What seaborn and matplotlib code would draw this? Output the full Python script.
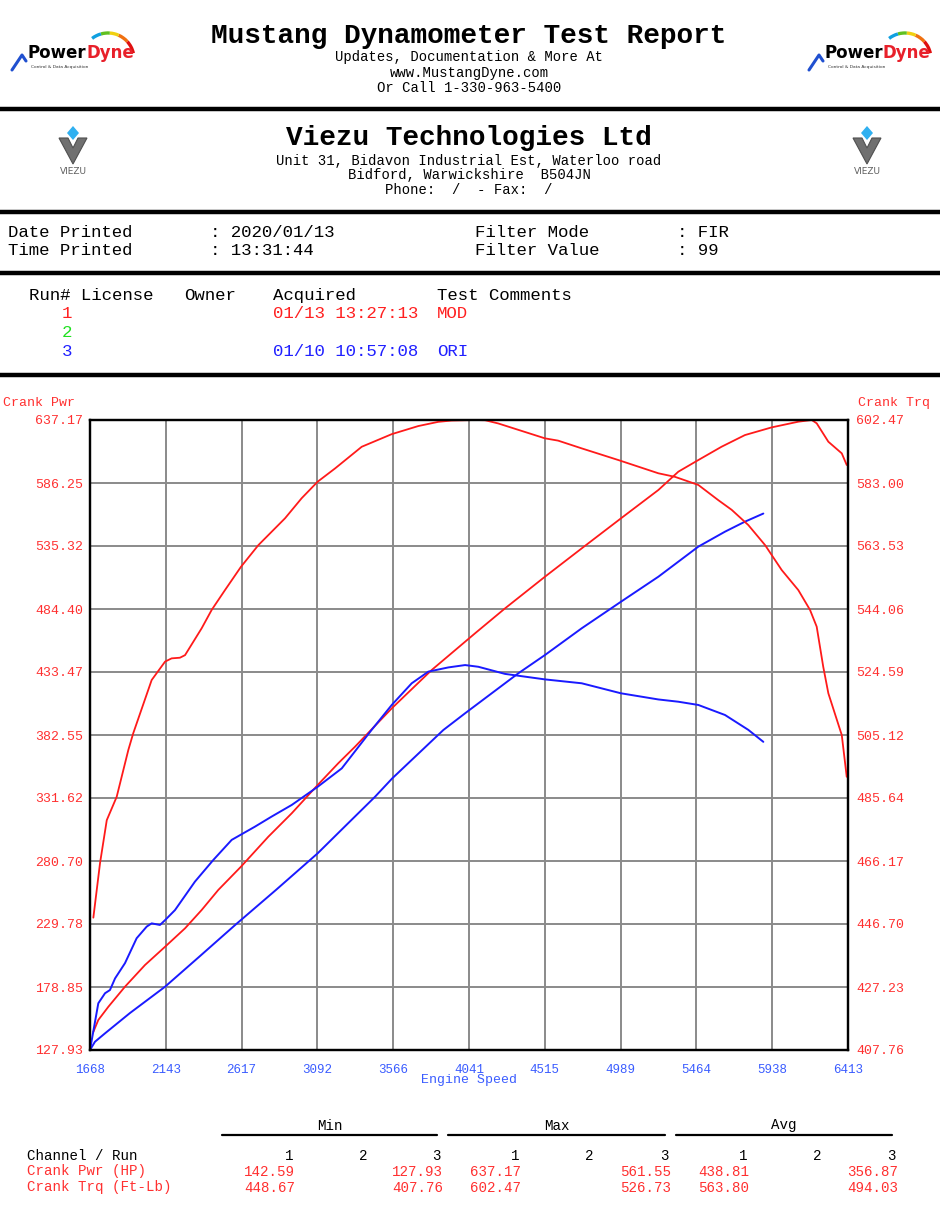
import numpy as np
import matplotlib
matplotlib.use("Agg")
import matplotlib.pyplot as plt
import seaborn as sns
from matplotlib.lines import Line2D
from matplotlib.patches import Polygon, Arc

# ---------------- data ----------------
x_ticklabels = ['1668', '2143', '2617', '3092', '3566', '4041', '4515', '4989', '5464', '5938', '6413']
pwr_ticklabels = ['127.93', '178.85', '229.78', '280.70', '331.62', '382.55', '433.47', '484.40', '535.32', '586.25', '637.17']
trq_ticklabels = ['407.76', '427.23', '446.70', '466.17', '485.64', '505.12', '524.59', '544.06', '563.53', '583.00', '602.47']

# Run 1 (MOD) crank power
run1_pwr_rpm = [1689, 1720, 1783, 1887, 2012, 2138, 2263, 2367, 2471, 2613, 2784, 2931, 3093, 3222, 3327,
                3557, 3807, 4078, 4266, 4516, 4746, 4992, 5226, 5351, 5476, 5622, 5768, 5935, 6102, 6186,
                6217, 6290, 6374, 6405]
run1_pwr = [142.6, 152.2, 162.9, 179.1, 196.6, 211.4, 226.3, 241.1, 257.3, 276.1, 300.3, 319.3, 342.1, 359.7, 373.1,
            404.1, 435.1, 464.7, 484.9, 510.5, 533.4, 557.7, 580.6, 595.4, 604.8, 615.6, 625.0, 631.2, 635.8, 637.17,
            634.5, 619.6, 610.2, 600.8]

# Run 1 (MOD) crank torque
run1_trq_rpm = [1689, 1731, 1773, 1835, 1908, 1939, 2054, 2138, 2179, 2231, 2263, 2367, 2430, 2513, 2613,
                2722, 2889, 2993, 3093, 3202, 3369, 3557, 3723, 3848, 3932, 4078, 4141, 4224, 4516, 4598,
                4746, 4975, 5226, 5330, 5476, 5601, 5685, 5789, 5894, 5998, 6102, 6175, 6217, 6258, 6290,
                6374, 6405]
run1_trq = [448.67, 465.6, 478.8, 486.0, 500.5, 505.7, 522.1, 527.8, 528.8, 529.0, 529.8, 538.1, 543.8, 549.9, 557.1,
            563.8, 572.1, 578.3, 583.4, 587.5, 594.2, 598.1, 600.6, 601.9, 602.3, 602.47, 602.4, 601.4, 596.8, 596.1,
            593.7, 590.1, 586.0, 584.9, 582.4, 577.7, 574.7, 570.0, 563.8, 556.1, 549.9, 543.8, 538.6, 526.2, 518.0,
            505.1, 492.2]

# Run 3 (ORI) crank power
run3_pwr_rpm = [1668, 1699, 1762, 1918, 2138, 2357, 2576, 2832, 3093, 3264, 3452, 3560, 3880, 4016, 4349,
                4516, 4746, 4992, 5226, 5476, 5643, 5768, 5883]
run3_pwr = [127.93, 134.6, 141.4, 157.8, 179.1, 203.9, 228.9, 257.3, 286.9, 308.7, 332.6, 347.5, 386.6, 400.1, 432.4,
            447.2, 468.8, 490.3, 510.5, 534.8, 546.9, 555.0, 561.55]

# Run 3 (ORI) crank torque
run3_trq_rpm = [1668, 1720, 1762, 1793, 1825, 1887, 1960, 2023, 2054, 2106, 2138, 2200, 2325, 2440, 2555,
                2701, 2805, 2931, 3093, 3244, 3431, 3557, 3682, 3786, 3911, 4016, 4099, 4266, 4516, 4746,
                4992, 5226, 5351, 5476, 5643, 5789, 5883]
run3_trq = [407.76, 422.2, 425.3, 426.3, 429.9, 434.6, 442.3, 445.9, 446.9, 446.4, 447.9, 451.0, 459.8, 466.5, 472.7,
            476.8, 479.9, 483.5, 489.1, 494.8, 506.7, 514.4, 521.1, 524.7, 526.0, 526.73, 526.2, 524.0, 522.3, 521.1,
            518.0, 516.1, 515.4, 514.4, 511.3, 506.7, 503.0]

table_channels = ['Crank Pwr (HP)', 'Crank Trq (Ft-Lb)']
table_min = [['142.59', '', '127.93'], ['448.67', '', '407.76']]
table_max = [['637.17', '', '561.55'], ['602.47', '', '526.73']]
table_avg = [['438.81', '', '356.87'], ['563.80', '', '494.03']]

# ---------------- figure ----------------
sns.set_theme(style="white")
plt.rcParams['font.family'] = ['Liberation Mono', 'DejaVu Sans']

W, H = 940, 1217
fig = plt.figure(figsize=(W / 100, H / 100), dpi=100)
fig.patch.set_facecolor('white')


def fx(x):
    return x / W


def fy(y):
    return 1 - y / H


def txt(x, y, s, size=10, color='black', ha='left', weight='normal', **kw):
    fig.text(fx(x), fy(y - 2), s, fontsize=size, color=color, ha=ha, va='center_baseline', weight=weight, **kw)


def hrule(y, x0=0, x1=W, lw=3.0, color='black'):
    fig.add_artist(Line2D([fx(x0), fx(x1)], [fy(y), fy(y)], transform=fig.transFigure, lw=lw, color=color))


# ---- logos ----
def powerdyne(x0, y0):
    fig.text(fx(x0 + 56), fy(y0), 'Power', fontsize=12, color='black', ha='right', va='center',
             weight='bold', family='DejaVu Sans')
    fig.text(fx(x0 + 56), fy(y0), 'Dyne', fontsize=12, color='#e8202a', ha='left', va='center',
             weight='bold', family='DejaVu Sans')
    cols = ['#e01010', '#f07010', '#f0d010', '#60c020', '#10a0e0']
    cx, cy, r = x0 + 78, y0 + 6, 26
    for i, c in enumerate(cols):
        a = Arc((fx(cx), fy(cy)), 2 * r / W, 2 * r / H, theta1=10 + i * 25, theta2=35 + i * 25,
                transform=fig.transFigure, color=c, lw=2.4)
        fig.add_artist(a)
    fig.add_artist(Line2D([fx(x0 - 18), fx(x0 - 8), fx(x0 - 4)], [fy(y0 + 17), fy(y0 + 2), fy(y0 + 8)],
                          transform=fig.transFigure, color='#2050d0', lw=2.2))
    fig.text(fx(x0 + 30), fy(y0 + 14), 'Control & Data Acquisition', fontsize=3.2, color='#333333',
             ha='center', va='center', family='DejaVu Sans')


def viezu(cx, cy):
    pts = [(-14, -12), (-5, -12), (0, -2), (5, -12), (14, -12), (0, 14)]
    fig.add_artist(Polygon([(fx(cx + a), fy(cy + b)) for a, b in pts], closed=True,
                           transform=fig.transFigure, facecolor='#707070', edgecolor='#505050', lw=0.8))
    dia = [(0, -24), (6, -17), (0, -10), (-6, -17)]
    fig.add_artist(Polygon([(fx(cx + a), fy(cy + b)) for a, b in dia], closed=True,
                           transform=fig.transFigure, facecolor='#30b0f0', edgecolor='none'))
    fig.text(fx(cx), fy(cy + 22), 'VIEZU', fontsize=6.5, color='#606060', ha='center', va='center',
             family='DejaVu Sans')


powerdyne(30, 53)
powerdyne(827, 53)
viezu(73, 150)
viezu(867, 150)

# ---- header texts ----
txt(469, 35, 'Mustang Dynamometer Test Report', size=20, ha='center', weight='bold')
txt(469, 58, 'Updates, Documentation & More At', size=10, ha='center')
txt(469, 73, 'www.MustangDyne.com', size=10, ha='center')
txt(469, 88, 'Or Call 1-330-963-5400', size=10, ha='center')
hrule(109, lw=3.2)

txt(469, 137, 'Viezu Technologies Ltd', size=20, ha='center', weight='bold')
txt(469, 161, 'Unit 31, Bidavon Industrial Est, Waterloo road', size=10, ha='center')
txt(469, 176, 'Bidford, Warwickshire  B504JN', size=10, ha='center')
txt(469, 191, 'Phone:  /  - Fax:  /', size=10, ha='center')
hrule(212, lw=3.2)

txt(8, 233, 'Date Printed', size=12.5)
txt(8, 251, 'Time Printed', size=12.5)
txt(210, 233, ': 2020/01/13', size=12.5)
txt(210, 251, ': 13:31:44', size=12.5)
txt(475, 233, 'Filter Mode', size=12.5)
txt(475, 251, 'Filter Value', size=12.5)
txt(677, 233, ': FIR', size=12.5)
txt(677, 251, ': 99', size=12.5)
hrule(273, lw=3.2)

txt(29, 296, 'Run# License', size=12.5)
txt(184, 296, 'Owner', size=12.5)
txt(273, 296, 'Acquired', size=12.5)
txt(437, 296, 'Test Comments', size=12.5)
txt(62, 314, '1', size=12.5, color='#ff2020')
txt(273, 314, '01/13 13:27:13', size=12.5, color='#ff2020')
txt(437, 314, 'MOD', size=12.5, color='#ff2020')
txt(62, 333, '2', size=12.5, color='#20e020')
txt(62, 352, '3', size=12.5, color='#2020ff')
txt(273, 352, '01/10 10:57:08', size=12.5, color='#2020ff')
txt(437, 352, 'ORI', size=12.5, color='#2020ff')
hrule(375, lw=3.2)

# ---------------- chart ----------------
L, T, R, B = 90, 420, 848, 1050
ax = fig.add_axes([fx(L), fy(B), (R - L) / W, (B - T) / H])
ax.set_facecolor('white')

pmin, pmax = float(pwr_ticklabels[0]), float(pwr_ticklabels[-1])
tmin, tmax = float(trq_ticklabels[0]), float(trq_ticklabels[-1])
xmin, xmax = float(x_ticklabels[0]), float(x_ticklabels[-1])

ax2 = ax.twinx()

red, blue = '#ff1a1a', '#1a1aff'
sns.lineplot(x=run3_pwr_rpm, y=run3_pwr, ax=ax, color=blue, lw=1.4, sort=False, estimator=None)
sns.lineplot(x=run1_pwr_rpm, y=run1_pwr, ax=ax, color=red, lw=1.3, sort=False, estimator=None)
sns.lineplot(x=run3_trq_rpm, y=run3_trq, ax=ax2, color=blue, lw=1.4, sort=False, estimator=None)
sns.lineplot(x=run1_trq_rpm, y=run1_trq, ax=ax2, color=red, lw=1.3, sort=False, estimator=None)

ax.set_xlim(xmin, xmax)
ax.set_ylim(pmin, pmax)
ax2.set_ylim(tmin, tmax)

xt = np.linspace(xmin, xmax, len(x_ticklabels))
ax.set_xticks(xt)
ax.set_xticklabels(x_ticklabels)
ax.set_yticks(np.linspace(pmin, pmax, len(pwr_ticklabels)))
ax.set_yticklabels(pwr_ticklabels)
ax2.set_yticks(np.linspace(tmin, tmax, len(trq_ticklabels)))
ax2.set_yticklabels(trq_ticklabels)

ax.grid(True, color='#8a8a8a', lw=1.4)
ax.set_axisbelow(True)
ax2.grid(False)
ax.set_zorder(0)
ax2.set_zorder(1)
ax2.patch.set_visible(False)

for a in (ax, ax2):
    for s in a.spines.values():
        s.set_color('black')
        s.set_linewidth(1.6)

ax.tick_params(axis='x', length=0, pad=10, labelsize=9, labelcolor='#3a5cff')
ax.tick_params(axis='y', length=0, pad=5, labelsize=9.5, labelcolor='#ff3030')
ax2.tick_params(axis='y', length=0, pad=6, labelsize=9.5, labelcolor='#ff3030')
ax.set_xlabel('')
ax.set_ylabel('')
ax2.set_ylabel('')

txt(469, 1081, 'Engine Speed', size=9.5, ha='center', color='#3a5cff')
txt(3, 404, 'Crank Pwr', size=9.5, color='#ff3030')
txt(858, 404, 'Crank Trq', size=9.5, color='#ff3030')

# ---------------- bottom table ----------------
groups = [('Min', 222, 437, table_min), ('Max', 448, 665, table_max), ('Avg', 676, 892, table_avg)]
tsz = 10.2
txt(27, 1157, 'Channel / Run', size=tsz)
for gname, g0, g1, vals in groups:
    txt((g0 + g1) / 2, 1126, gname, size=tsz, ha='center')
    hrule(1135, g0, g1, lw=1.6)
    colx = [g0 + 71, g0 + 146, g1 + 4]
    for k in range(3):
        txt(colx[k], 1157, str(k + 1), size=tsz, ha='right')
    for r in range(2):
        for k in range(3):
            if vals[r][k]:
                txt(colx[k] + 2, 1172 + r * 16, vals[r][k], size=tsz, ha='right', color='#ff3030')
for r, ch in enumerate(table_channels):
    txt(27, 1172 + r * 16, ch, size=tsz, color='#ff3030')

fig.savefig('out.png', dpi=100, facecolor='white')
